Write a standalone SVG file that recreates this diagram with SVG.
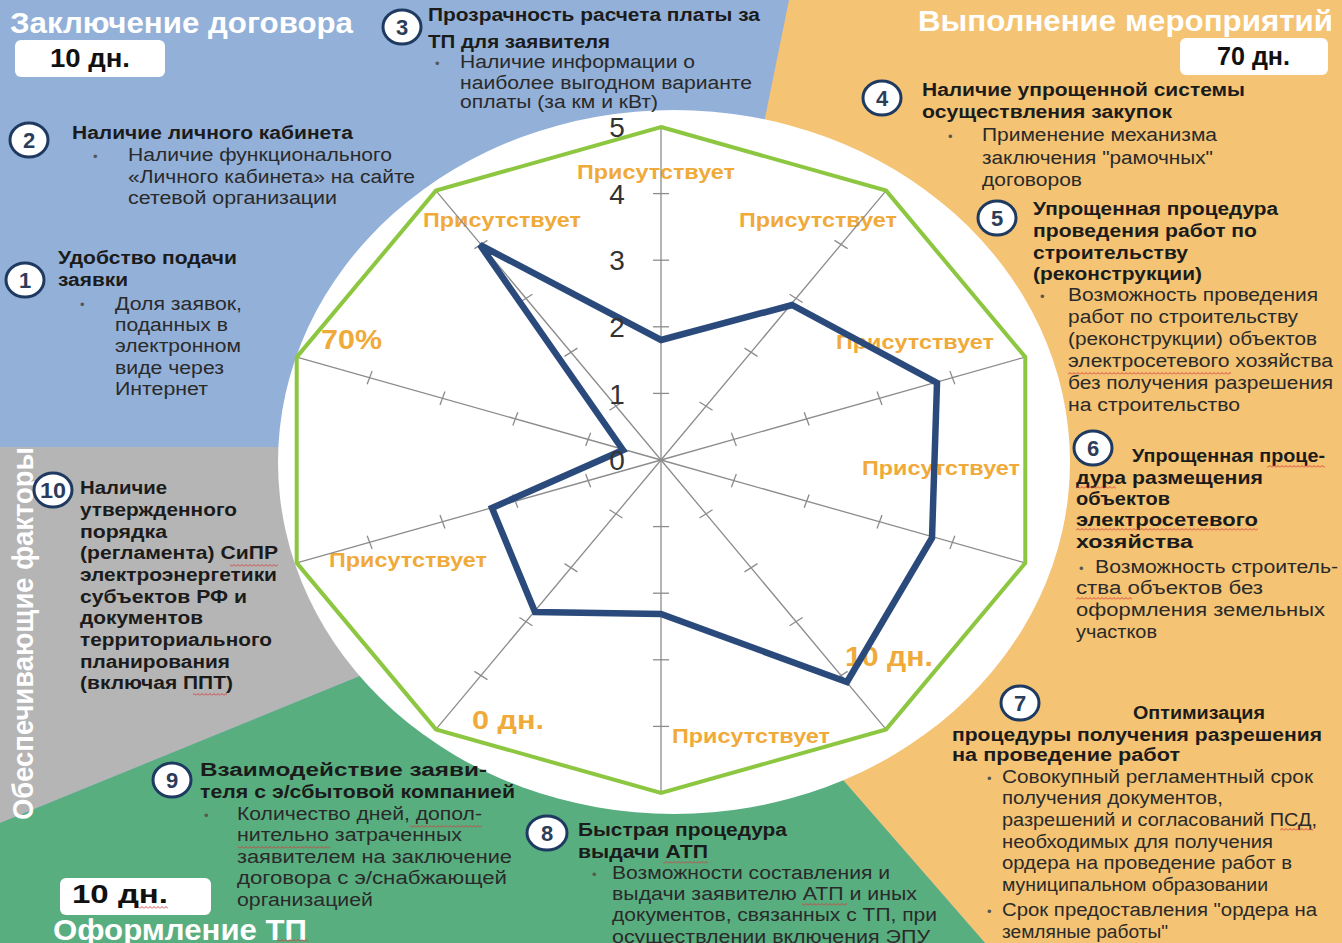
<svg xmlns="http://www.w3.org/2000/svg" width="1342" height="943" viewBox="0 0 1342 943">
<defs>
<style>
text{font-family:"Liberation Sans",Arial,sans-serif}
.h{font-size:30px;font-weight:bold;fill:#ffffff}
.t{font-size:18px;font-weight:bold;fill:#1b1b1b}
.b{font-size:18px;fill:#2a2a2a}
.d{font-size:13px;fill:#555555}
.lab{font-size:20px;font-weight:bold;fill:#f0aa3a}
.ax{font-size:28px;fill:#333333;text-anchor:middle}
.nc{fill:#ffffff;stroke:#1f3a60;stroke-width:3}
.nt{font-size:22px;font-weight:bold;fill:#2c3d5a;text-anchor:middle}
.box{fill:#ffffff}
.bt{font-size:25px;font-weight:bold;fill:#111111}
.sq{fill:url(#sq)}
</style>
<pattern id="sq" width="4" height="3" patternUnits="userSpaceOnUse"><path d="M0 2.5L2 0.5L4 2.5" fill="none" stroke="#d63a3a" stroke-width="0.9"/></pattern>
<g id="spoke" stroke="#8c8c8c" stroke-width="1.3" fill="none">
<line x1="0" y1="0" x2="0" y2="-333" vector-effect="non-scaling-stroke"/>
<line x1="-7" y1="-66.6" x2="7" y2="-66.6" vector-effect="non-scaling-stroke"/>
<line x1="-7" y1="-133.2" x2="7" y2="-133.2" vector-effect="non-scaling-stroke"/>
<line x1="-7" y1="-199.8" x2="7" y2="-199.8" vector-effect="non-scaling-stroke"/>
<line x1="-7" y1="-266.4" x2="7" y2="-266.4" vector-effect="non-scaling-stroke"/>
</g>
</defs>

<g id="background">
<rect x="0" y="0" width="1342" height="943" fill="#93b0d8"/>
<polygon points="789,0 1342,0 1342,943 985,943 843,780 760,680 720,300 765,118" fill="#f4c373"/>
<polygon points="0,447 330,447 380,600 360,676 0,823" fill="#b5b5b5"/>
<polygon points="0,823 360,676 600,700 843,780 985,943 0,943" fill="#59ae80"/>
<ellipse cx="674" cy="462" rx="396" ry="352" fill="#ffffff"/>
</g>

<g id="section-titles">
<text class="h" x="10" y="33" textLength="343" lengthAdjust="spacingAndGlyphs">Заключение договора</text>
<text class="h" x="918" y="31" textLength="415" lengthAdjust="spacingAndGlyphs">Выполнение мероприятий</text>
<text class="h" x="53" y="940" textLength="254" lengthAdjust="spacingAndGlyphs">Оформление ТП</text>
<text class="h" transform="translate(33,820) rotate(-90)" x="0" y="0" textLength="373" lengthAdjust="spacingAndGlyphs">Обеспечивающие факторы</text>
<rect class="sq" x="277" y="939" width="31" height="3"/>
</g>

<g id="boxes">
<rect class="box" x="15" y="40" width="150" height="37" rx="6"/>
<text class="bt" x="50" y="67" textLength="80" lengthAdjust="spacingAndGlyphs">10 дн.</text>
<rect class="box" x="1180" y="38" width="148" height="37" rx="6"/>
<text class="bt" x="1217" y="65" textLength="73" lengthAdjust="spacingAndGlyphs">70 дн.</text>
<rect class="box" x="60" y="878" width="151" height="37" rx="6"/>
<text class="bt" x="72" y="903" textLength="96" lengthAdjust="spacingAndGlyphs">10  дн.</text>
<rect class="sq" x="138" y="906" width="30" height="3"/>
</g>

<g id="radar-labels">
<text class="lab" x="577" y="179" textLength="158" lengthAdjust="spacingAndGlyphs">Присутствует</text>
<text class="lab" x="423" y="227" textLength="158" lengthAdjust="spacingAndGlyphs">Присутствует</text>
<text class="lab" x="739" y="227" textLength="158" lengthAdjust="spacingAndGlyphs">Присутствует</text>
<text class="lab" x="836" y="349" textLength="158" lengthAdjust="spacingAndGlyphs">Присутствует</text>
<text class="lab" x="862" y="475" textLength="158" lengthAdjust="spacingAndGlyphs">Присутствует</text>
<text class="lab" x="672" y="743" textLength="158" lengthAdjust="spacingAndGlyphs">Присутствует</text>
<text class="lab" x="329" y="567" textLength="158" lengthAdjust="spacingAndGlyphs">Присутствует</text>
<text class="lab" x="321" y="349" style="font-size:27px" textLength="61" lengthAdjust="spacingAndGlyphs">70%</text>
<text class="lab" x="845" y="666" style="font-size:27px" textLength="88" lengthAdjust="spacingAndGlyphs">10 дн.</text>
<text class="lab" x="472" y="729" style="font-size:25px" textLength="72" lengthAdjust="spacingAndGlyphs">0 дн.</text>
</g>

<g id="axes" transform="translate(661,460) scale(1.15,1)">
<use href="#spoke"/>
<use href="#spoke" transform="rotate(36)"/>
<use href="#spoke" transform="rotate(72)"/>
<use href="#spoke" transform="rotate(108)"/>
<use href="#spoke" transform="rotate(144)"/>
<use href="#spoke" transform="rotate(180)"/>
<use href="#spoke" transform="rotate(216)"/>
<use href="#spoke" transform="rotate(252)"/>
<use href="#spoke" transform="rotate(288)"/>
<use href="#spoke" transform="rotate(324)"/>
</g>

<g id="target-decagon">
<polygon points="661,127 886.1,190.6 1025.3,357.1 1025.3,562.9 886.1,729.4 661,793 435.9,729.4 296.7,562.9 296.7,357.1 435.9,190.6" fill="none" stroke="#8dc641" stroke-width="4"/>
</g>

<g id="data-series">
<polygon points="661,340 792,305 937,383 932,538 847,682 661,614 535,612 492,508 623,450 480,245" fill="none" stroke="#2b4a7c" stroke-width="6.5" stroke-linejoin="miter"/>
</g>

<g id="axis-numbers">
<text class="ax" x="617" y="137">5</text>
<text class="ax" x="617" y="204">4</text>
<text class="ax" x="617" y="270">3</text>
<text class="ax" x="617" y="337">2</text>
<text class="ax" x="617" y="404">1</text>
<text class="ax" x="617" y="470">0</text>
</g>

<g id="item-1">
<ellipse class="nc" cx="25" cy="280" rx="19" ry="17"/>
<text class="nt" x="25" y="288">1</text>
<text class="t" x="58" y="264" textLength="179" lengthAdjust="spacingAndGlyphs">Удобство подачи</text>
<text class="t" x="58" y="286" textLength="70" lengthAdjust="spacingAndGlyphs">заявки</text>
<text class="d" x="80" y="309">•</text>
<text class="b" x="115" y="310" textLength="127" lengthAdjust="spacingAndGlyphs">Доля заявок,</text>
<text class="b" x="115" y="331" textLength="113" lengthAdjust="spacingAndGlyphs">поданных в</text>
<text class="b" x="115" y="352" textLength="126" lengthAdjust="spacingAndGlyphs">электронном</text>
<text class="b" x="115" y="374" textLength="109" lengthAdjust="spacingAndGlyphs">виде через</text>
<text class="b" x="115" y="395" textLength="93" lengthAdjust="spacingAndGlyphs">Интернет</text>
</g>

<g id="item-2">
<ellipse class="nc" cx="29" cy="140" rx="19" ry="17"/>
<text class="nt" x="29" y="148">2</text>
<text class="t" x="72" y="139" textLength="281" lengthAdjust="spacingAndGlyphs">Наличие личного кабинета</text>
<text class="d" x="93" y="161">•</text>
<text class="b" x="128" y="161" textLength="264" lengthAdjust="spacingAndGlyphs">Наличие функционального</text>
<text class="b" x="128" y="183" textLength="287" lengthAdjust="spacingAndGlyphs">«Личного кабинета» на сайте</text>
<text class="b" x="128" y="204" textLength="209" lengthAdjust="spacingAndGlyphs">сетевой организации</text>
</g>

<g id="item-3">
<ellipse class="nc" cx="402" cy="27" rx="19" ry="17"/>
<text class="nt" x="402" y="35">3</text>
<text class="t" x="428" y="21" textLength="332" lengthAdjust="spacingAndGlyphs">Прозрачность расчета платы за</text>
<text class="t" x="428" y="48" textLength="182" lengthAdjust="spacingAndGlyphs">ТП для заявителя</text>
<text class="d" x="435" y="68">•</text>
<text class="b" x="460" y="68" textLength="235" lengthAdjust="spacingAndGlyphs">Наличие информации о</text>
<text class="b" x="460" y="89" textLength="292" lengthAdjust="spacingAndGlyphs">наиболее выгодном варианте</text>
<text class="b" x="460" y="108" textLength="198" lengthAdjust="spacingAndGlyphs">оплаты (за км и кВт)</text>
</g>

<g id="item-4">
<ellipse class="nc" cx="882" cy="98" rx="19" ry="17"/>
<text class="nt" x="882" y="106">4</text>
<text class="t" x="922" y="96" textLength="323" lengthAdjust="spacingAndGlyphs">Наличие упрощенной системы</text>
<text class="t" x="922" y="118" textLength="250" lengthAdjust="spacingAndGlyphs">осуществления закупок</text>
<text class="d" x="948" y="141">•</text>
<text class="b" x="982" y="141" textLength="235" lengthAdjust="spacingAndGlyphs">Применение механизма</text>
<text class="b" x="982" y="164" textLength="231" lengthAdjust="spacingAndGlyphs">заключения "рамочных"</text>
<text class="b" x="982" y="186" textLength="100" lengthAdjust="spacingAndGlyphs">договоров</text>
</g>

<g id="item-5">
<ellipse class="nc" cx="997" cy="218" rx="19" ry="17"/>
<text class="nt" x="997" y="226">5</text>
<text class="t" x="1033" y="215" textLength="245" lengthAdjust="spacingAndGlyphs">Упрощенная процедура</text>
<text class="t" x="1033" y="237" textLength="224" lengthAdjust="spacingAndGlyphs">проведения работ по</text>
<text class="t" x="1033" y="259" textLength="155" lengthAdjust="spacingAndGlyphs">строительству</text>
<text class="t" x="1033" y="280" textLength="169" lengthAdjust="spacingAndGlyphs">(реконструкции)</text>
<text class="d" x="1040" y="301">•</text>
<text class="b" x="1068" y="301" textLength="250" lengthAdjust="spacingAndGlyphs">Возможность проведения</text>
<text class="b" x="1068" y="323" textLength="230" lengthAdjust="spacingAndGlyphs">работ по строительству</text>
<text class="b" x="1068" y="345" textLength="249" lengthAdjust="spacingAndGlyphs">(реконструкции) объектов</text>
<text class="b" x="1068" y="367" textLength="265" lengthAdjust="spacingAndGlyphs">электросетевого хозяйства</text>
<text class="b" x="1068" y="389" textLength="265" lengthAdjust="spacingAndGlyphs">без получения разрешения</text>
<text class="b" x="1068" y="411" textLength="172" lengthAdjust="spacingAndGlyphs">на строительство</text>
<rect class="sq" x="1068" y="372" width="163" height="3"/>
</g>

<g id="item-6">
<ellipse class="nc" cx="1093" cy="448" rx="19" ry="17"/>
<text class="nt" x="1093" y="456">6</text>
<text class="t" x="1132" y="462" textLength="193" lengthAdjust="spacingAndGlyphs">Упрощенная проце-</text>
<text class="t" x="1076" y="484" textLength="187" lengthAdjust="spacingAndGlyphs">дура размещения</text>
<text class="t" x="1076" y="505" textLength="94" lengthAdjust="spacingAndGlyphs">объектов</text>
<text class="t" x="1076" y="526" textLength="182" lengthAdjust="spacingAndGlyphs">электросетевого</text>
<text class="t" x="1076" y="548" textLength="117" lengthAdjust="spacingAndGlyphs">хозяйства</text>
<text class="d" x="1079" y="573">•</text>
<text class="b" x="1095" y="573" textLength="243" lengthAdjust="spacingAndGlyphs">Возможность строитель-</text>
<text class="b" x="1076" y="594" textLength="187" lengthAdjust="spacingAndGlyphs">ства объектов без</text>
<text class="b" x="1076" y="616" textLength="249" lengthAdjust="spacingAndGlyphs">оформления земельных</text>
<text class="b" x="1076" y="638" textLength="81" lengthAdjust="spacingAndGlyphs">участков</text>
<rect class="sq" x="1267" y="465" width="58" height="3"/>
<rect class="sq" x="1076" y="486" width="40" height="3"/>
<rect class="sq" x="1076" y="528" width="182" height="3"/>
<rect class="sq" x="1076" y="597" width="56" height="3"/>
</g>

<g id="item-7">
<ellipse class="nc" cx="1020" cy="703" rx="19" ry="17"/>
<text class="nt" x="1020" y="711">7</text>
<text class="t" x="1133" y="719" textLength="132" lengthAdjust="spacingAndGlyphs">Оптимизация</text>
<text class="t" x="952" y="741" textLength="370" lengthAdjust="spacingAndGlyphs">процедуры получения разрешения</text>
<text class="t" x="952" y="761" textLength="228" lengthAdjust="spacingAndGlyphs">на проведение работ</text>
<text class="d" x="987" y="783">•</text>
<text class="b" x="1002" y="783" textLength="311" lengthAdjust="spacingAndGlyphs">Совокупный регламентный срок</text>
<text class="b" x="1002" y="804" textLength="221" lengthAdjust="spacingAndGlyphs">получения документов,</text>
<text class="b" x="1002" y="826" textLength="315" lengthAdjust="spacingAndGlyphs">разрешений и согласований ПСД,</text>
<text class="b" x="1002" y="848" textLength="271" lengthAdjust="spacingAndGlyphs">необходимых для получения</text>
<text class="b" x="1002" y="869" textLength="290" lengthAdjust="spacingAndGlyphs">ордера на проведение работ в</text>
<text class="b" x="1002" y="891" textLength="266" lengthAdjust="spacingAndGlyphs">муниципальном образовании</text>
<text class="d" x="987" y="916">•</text>
<text class="b" x="1002" y="916" textLength="315" lengthAdjust="spacingAndGlyphs">Срок предоставления "ордера на</text>
<text class="b" x="1002" y="938" textLength="166" lengthAdjust="spacingAndGlyphs">земляные работы"</text>
<rect class="sq" x="1280" y="828" width="33" height="3"/>
</g>

<g id="item-8">
<ellipse class="nc" cx="547" cy="833" rx="20" ry="17"/>
<text class="nt" x="547" y="841">8</text>
<text class="t" x="578" y="836" textLength="209" lengthAdjust="spacingAndGlyphs">Быстрая процедура</text>
<text class="t" x="578" y="858" textLength="130" lengthAdjust="spacingAndGlyphs">выдачи АТП</text>
<text class="d" x="592" y="879">•</text>
<text class="b" x="612" y="879" textLength="278" lengthAdjust="spacingAndGlyphs">Возможности составления и</text>
<text class="b" x="612" y="900" textLength="305" lengthAdjust="spacingAndGlyphs">выдачи заявителю АТП и иных</text>
<text class="b" x="612" y="921" textLength="325" lengthAdjust="spacingAndGlyphs">документов, связанных с ТП, при</text>
<text class="b" x="612" y="943" textLength="318" lengthAdjust="spacingAndGlyphs">осуществлении включения ЭПУ</text>
<rect class="sq" x="663" y="861" width="45" height="3"/>
<rect class="sq" x="802" y="903" width="45" height="3"/>
</g>

<g id="item-9">
<ellipse class="nc" cx="172" cy="780" rx="19" ry="17"/>
<text class="nt" x="172" y="788">9</text>
<text class="t" x="200" y="776" textLength="287" lengthAdjust="spacingAndGlyphs">Взаимодействие заяви-</text>
<text class="t" x="200" y="798" textLength="315" lengthAdjust="spacingAndGlyphs">теля с э/сбытовой компанией</text>
<text class="d" x="204" y="820">•</text>
<text class="b" x="237" y="820" textLength="245" lengthAdjust="spacingAndGlyphs">Количество дней, допол-</text>
<text class="b" x="237" y="841" textLength="225" lengthAdjust="spacingAndGlyphs">нительно затраченных</text>
<text class="b" x="237" y="863" textLength="275" lengthAdjust="spacingAndGlyphs">заявителем на заключение</text>
<text class="b" x="237" y="884" textLength="270" lengthAdjust="spacingAndGlyphs">договора с э/снабжающей</text>
<text class="b" x="237" y="906" textLength="136" lengthAdjust="spacingAndGlyphs">организацией</text>
<rect class="sq" x="410" y="825" width="72" height="3"/>
<rect class="sq" x="238" y="846" width="92" height="3"/>
</g>

<g id="item-10">
<ellipse class="nc" cx="53" cy="490" rx="19" ry="17"/>
<text class="nt" x="53" y="498" textLength="26" lengthAdjust="spacingAndGlyphs">10</text>
<text class="t" x="80" y="494" textLength="87" lengthAdjust="spacingAndGlyphs">Наличие</text>
<text class="t" x="80" y="516" textLength="157" lengthAdjust="spacingAndGlyphs">утвержденного</text>
<text class="t" x="80" y="538" textLength="87" lengthAdjust="spacingAndGlyphs">порядка</text>
<text class="t" x="80" y="559" textLength="198" lengthAdjust="spacingAndGlyphs">(регламента) СиПР</text>
<text class="t" x="80" y="581" textLength="197" lengthAdjust="spacingAndGlyphs">электроэнергетики</text>
<text class="t" x="80" y="603" textLength="167" lengthAdjust="spacingAndGlyphs">субъектов РФ и</text>
<text class="t" x="80" y="624" textLength="123" lengthAdjust="spacingAndGlyphs">документов</text>
<text class="t" x="80" y="646" textLength="192" lengthAdjust="spacingAndGlyphs">территориального</text>
<text class="t" x="80" y="668" textLength="150" lengthAdjust="spacingAndGlyphs">планирования</text>
<text class="t" x="80" y="689" textLength="153" lengthAdjust="spacingAndGlyphs">(включая ППТ)</text>
<rect class="sq" x="230" y="564" width="48" height="3"/>
<rect class="sq" x="193" y="693" width="34" height="3"/>
</g>
</svg>
